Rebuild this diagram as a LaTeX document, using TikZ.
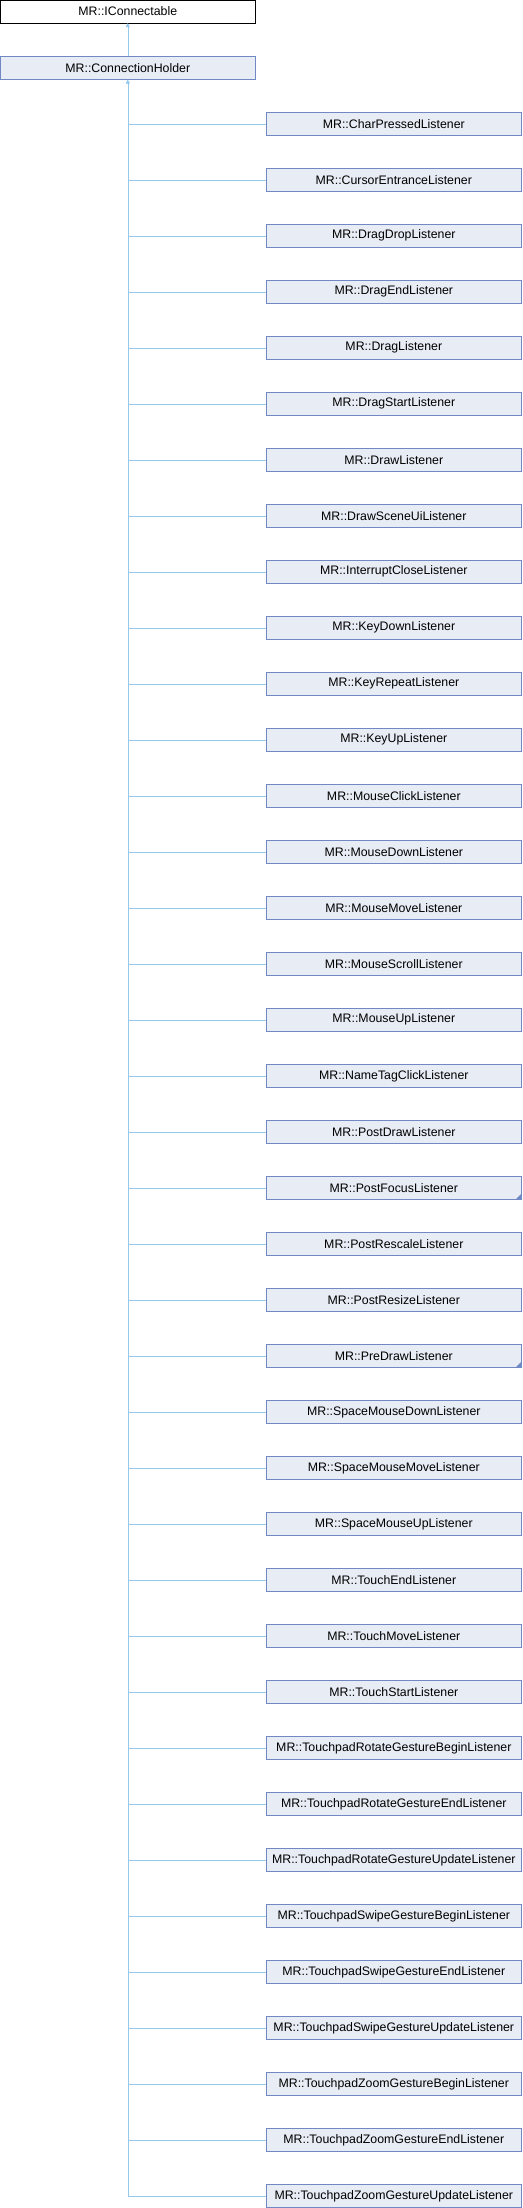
\documentclass[tikz,border=0pt]{standalone}
\usepackage{fontspec}
\setmainfont{Liberation Sans}
\usetikzlibrary{arrows.meta}
\definecolor{clsfill}{HTML}{E8ECF5}
\definecolor{clsborder}{HTML}{7088C4}
\definecolor{edgeblue}{HTML}{94C8EC}
\tikzset{cls/.style={rectangle, draw=clsborder, fill=clsfill, thin,
   minimum width=191.5pt, minimum height=17pt, inner sep=0pt,
   font=\fontsize{9.25}{10}\selectfont}}
\tikzset{ext/.style={cls, draw=black, fill=white}}
\tikzset{edge/.style={draw=edgeblue, thin}}
\tikzset{tip/.style={{Triangle[width=3pt,length=3pt]}-}}

\begin{document}
\begin{tikzpicture}[x=0.75pt, y=-0.75pt]

    \useasboundingbox (0,0) rectangle (522,2208);

    \node[ext] (iconn)  at (127.8,11.5) {MR::IConnectable};
    \node[cls] (holder) at (127.8,68)   {MR::ConnectionHolder};

    \foreach \name [count=\i] in {CharPressedListener, CursorEntranceListener,
      DragDropListener, DragEndListener, DragListener, DragStartListener,
      DrawListener, DrawSceneUiListener, InterruptCloseListener,
      KeyDownListener, KeyRepeatListener, KeyUpListener, MouseClickListener,
      MouseDownListener, MouseMoveListener, MouseScrollListener,
      MouseUpListener, NameTagClickListener, PostDrawListener,
      PostFocusListener, PostRescaleListener, PostResizeListener,
      PreDrawListener, SpaceMouseDownListener, SpaceMouseMoveListener,
      SpaceMouseUpListener, TouchEndListener, TouchMoveListener,
      TouchStartListener, TouchpadRotateGestureBeginListener,
      TouchpadRotateGestureEndListener, TouchpadRotateGestureUpdateListener,
      TouchpadSwipeGestureBeginListener, TouchpadSwipeGestureEndListener,
      TouchpadSwipeGestureUpdateListener, TouchpadZoomGestureBeginListener,
      TouchpadZoomGestureEndListener, TouchpadZoomGestureUpdateListener}
    {
      \node[cls] (l\i) at (393.8,123.8+56*\i-56) {MR::\name};
      \draw[edge] (holder.south |- l\i.west) -- (l\i.west);
    }

    % truncated children
    \foreach \i in {20,23}
      \fill[clsborder] (l\i.south east) -- ++(-6,0) -- ++(6,-6) -- cycle;

    \draw[edge, tip] (iconn.south) -- (holder.north);
    \draw[edge, tip] (holder.south) -- (holder.south |- l38.west);

\end{tikzpicture}
\end{document}
